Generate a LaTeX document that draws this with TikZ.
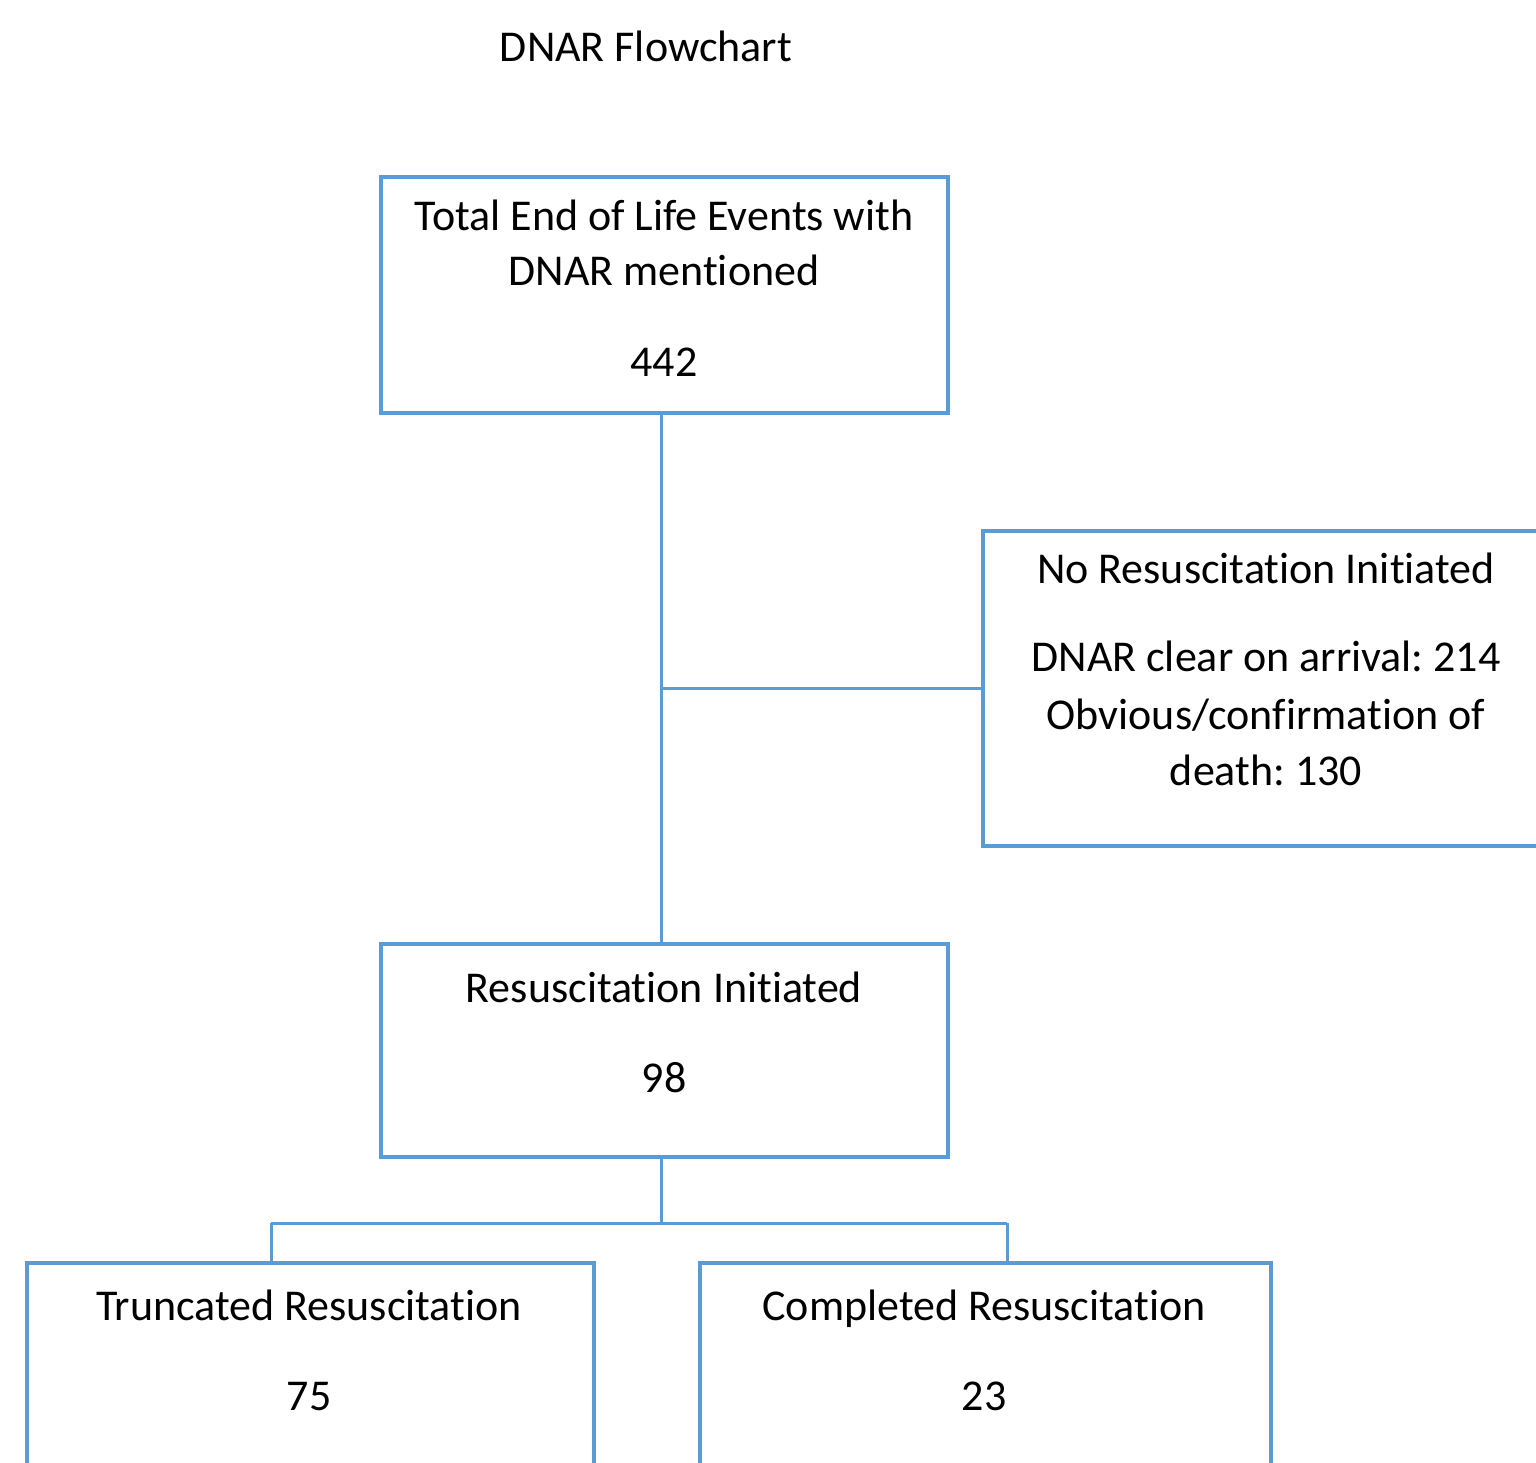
\documentclass[tikz,border=0pt]{standalone}
\usepackage{fontspec}
\setmainfont[Ligatures=NoCommon]{Carlito}
\definecolor{wordblue}{HTML}{5B9BD5}
\frenchspacing
\begin{document}
\begin{tikzpicture}[x=1pt,y=-1pt,
  box/.style={draw=wordblue,line width=3.4pt,inner sep=0pt,outer sep=0pt,anchor=north west,rectangle},
  conn/.style={draw=wordblue,line width=3pt},
  txt/.style={anchor=base,inner sep=0pt,font=\fontsize{44}{55}\selectfont}]
\useasboundingbox (0,0) rectangle (1536,1462);
\clip (0,0) rectangle (1536,1462);
% boxes
\node[box,minimum width=567pt,minimum height=236pt] (top) at (381,177) {};
\node[box,minimum width=570pt,minimum height=315pt] (right) at (983,531) {};
\node[box,minimum width=567pt,minimum height=213pt] (mid) at (381,944) {};
\node[box,minimum width=567pt,minimum height=240pt] (bl) at (27,1263) {};
\node[box,minimum width=571pt,minimum height=240pt] (br) at (700,1263) {};
% junctions
\coordinate (j1) at (661,688);
\coordinate (j2) at (661,1223);
\coordinate (jl) at (271,1223);
\coordinate (jr) at (1007,1223);
% connectors
\draw[conn] (top.south -| j1) -- (mid.north -| j1);
\draw[conn] (j1) -- (right.west |- j1);
\draw[conn] (mid.south -| j2) -- (j2);
\draw[conn] (jl) -- (jr);
\draw[conn] (jl) -- (bl.north -| jl);
\draw[conn] (jr) -- (br.north -| jr);
% texts
\node[txt] (title) at (646,61) {DNAR Flowchart};
\node[txt] (t1) at (664,230) {Total End of Life Events with};
\node[txt] (t2) at (664,285) {DNAR mentioned};
\node[txt] (t3) at (664,376) {442};
\node[txt] (r1) at (1266,583) {No Resuscitation Initiated};
\node[txt] (r2) at (1266,671) {DNAR clear on arrival: 214};
\node[txt] (r3) at (1266,729) {Obvious/confirmation of};
\node[txt] (r4) at (1266,785) {death: 130};
\node[txt] (m1) at (664,1002) {Resuscitation Initiated};
\node[txt] (m2) at (664,1092) {98};
\node[txt] (b1) at (309,1320) {Truncated Resuscitation};
\node[txt] (b2) at (309,1410) {75};
\node[txt] (c1) at (984,1320) {Completed Resuscitation};
\node[txt] (c2) at (984,1410) {23};
\end{tikzpicture}
\end{document}
